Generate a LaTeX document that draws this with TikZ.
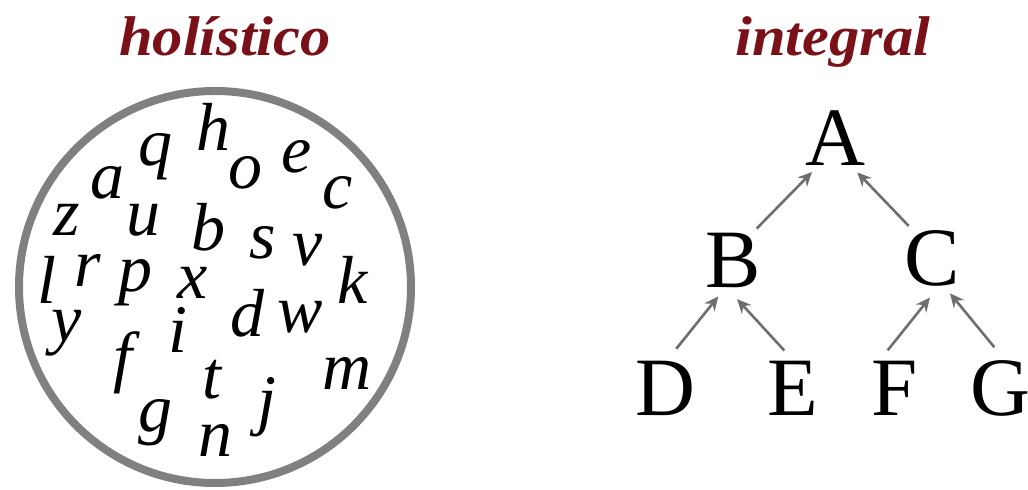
\documentclass[tikz,border=0pt]{standalone}
\usepackage{fontspec}
\setmainfont{Liberation Serif}
\usetikzlibrary{arrows.meta}
\definecolor{titlered}{RGB}{122,16,24}
\definecolor{ringgray}{RGB}{128,128,128}
\definecolor{arrowgray}{RGB}{110,110,110}
\tikzset{
  titletext/.style={text=titlered,font=\fontsize{28}{32}\selectfont\bfseries\itshape,inner sep=0pt},
  letter/.style={font=\fontsize{34}{40}\selectfont\itshape,inner sep=0pt},
  treeletter/.style={font=\fontsize{41.5}{48}\selectfont,circle,inner sep=0pt,minimum size=38pt},
  uparrow/.style={draw=arrowgray,line width=1.3pt,-{Stealth[length=7pt,width=6.5pt]}}
}
\begin{document}
\begin{tikzpicture}[x=0.5pt,y=-0.5pt]
\useasboundingbox (0,0) rectangle (1028,490);
% titles
\node[titletext] (t1) at (225,36) {\scalebox{1.08}[1]{holístico}};
\node[titletext] (t2) at (833,42) {\scalebox{1.08}[1]{integral}};
% ring
\node[circle,draw=ringgray,line width=4pt,minimum size=196pt,inner sep=0pt] (ring) at (215,287) {};
% scattered letters
\node[letter] (lh) at (213,127) {h};
\node[letter] (lq) at (155,157) {q};
\node[letter] (la) at (107,183) {a};
\node[letter] (lo) at (245,173) {o};
\node[letter] (le) at (297,157) {e};
\node[letter] (lc) at (338,193) {c};
\node[letter] (lz) at (67,220) {z};
\node[letter] (lu) at (143,220) {u};
\node[letter] (lb) at (208,227) {b};
\node[letter] (ls) at (263,243) {s};
\node[letter] (lv) at (308,250) {v};
\node[letter] (ll) at (47,280) {l};
\node[letter] (lr) at (88,270) {r};
\node[letter] (lp) at (135,283) {p};
\node[letter] (lx) at (193,283) {x};
\node[letter] (lk) at (353,280) {k};
\node[letter] (ly) at (67,333) {y};
\node[letter] (li) at (178,330) {i};
\node[letter] (ld) at (247,313) {d};
\node[letter] (lw) at (300,317) {w};
\node[letter] (lf) at (123,363) {f};
\node[letter] (lt) at (212,380) {t};
\node[letter] (lm) at (347,373) {m};
\node[letter] (lj) at (267,407) {j};
\node[letter] (lg) at (155,423) {g};
\node[letter] (ln) at (215,440) {n};
% tree
\node[treeletter] (A) at (835,138) {A};
\node[treeletter] (B) at (733,260) {B};
\node[treeletter] (C) at (932,258) {C};
\node[treeletter] (D) at (665,388) {D};
\node[treeletter] (E) at (793,388) {E};
\node[treeletter] (F) at (895,388) {F};
\node[treeletter] (G) at (1000,388) {G};
\draw[uparrow] (B.53) -- (A.236);
\draw[uparrow] (C.126) -- (A.303);
\draw[uparrow] (D.74) -- (B.248);
\draw[uparrow] (E.103) -- (B.276);
\draw[uparrow] (F.101) -- (C.267);
\draw[uparrow] (G.98) -- (C.297);
\end{tikzpicture}
\end{document}
